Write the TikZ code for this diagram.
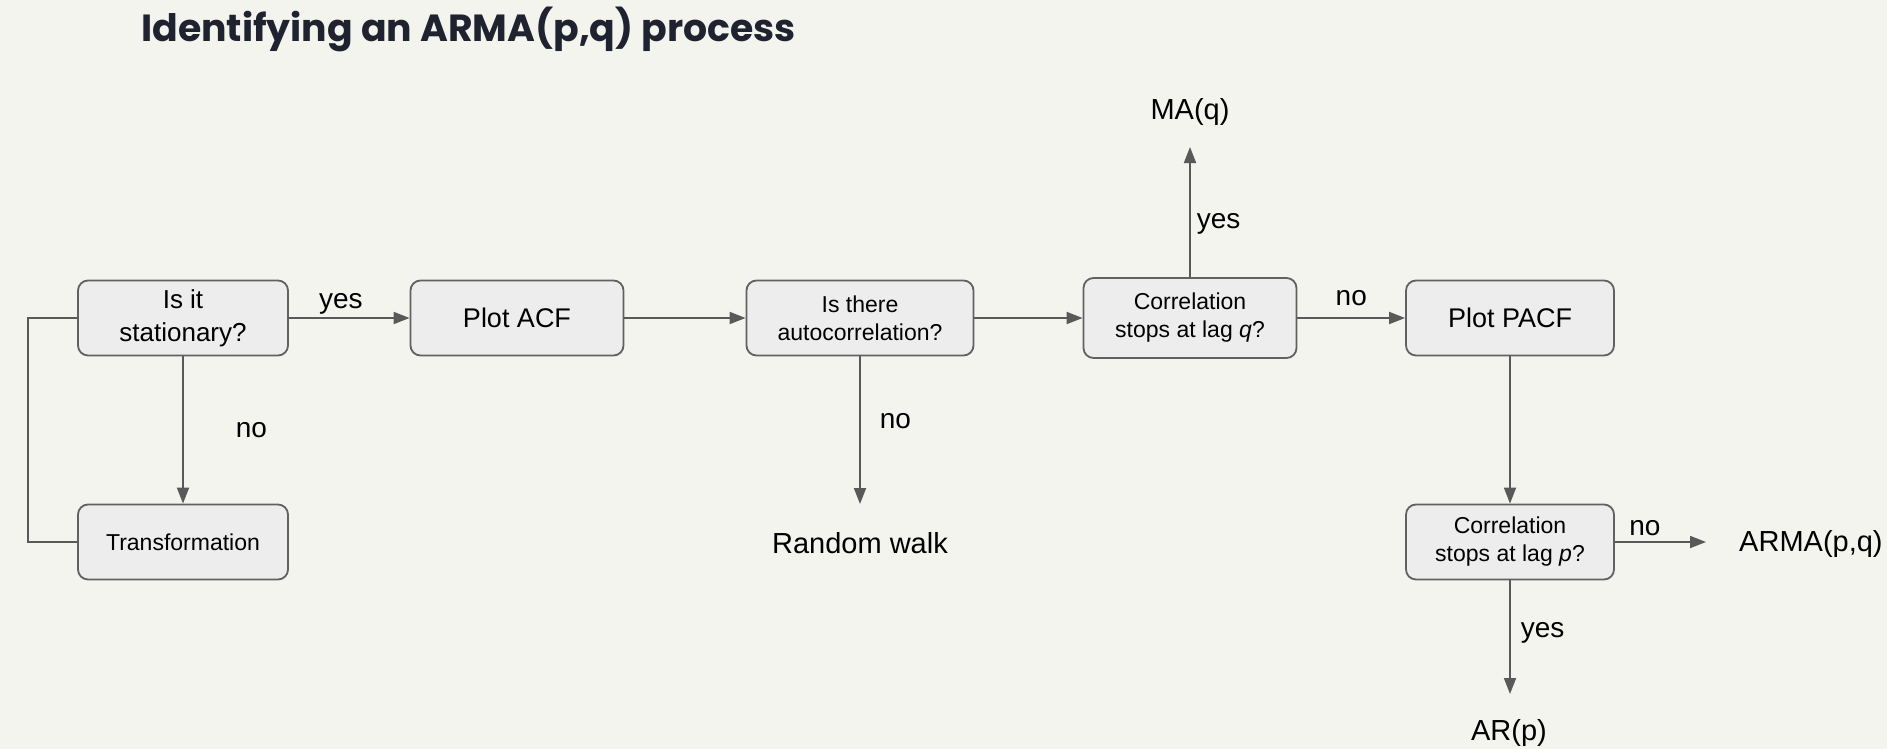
\documentclass[tikz,border=0pt]{standalone}
\usepackage{fontspec}
\setmainfont{Liberation Sans}
\newfontfamily\titlefont{Poppins}
\usetikzlibrary{arrows.meta}
\definecolor{bgc}{HTML}{F4F4EE}
\definecolor{boxfill}{HTML}{EDEDED}
\definecolor{boxline}{HTML}{616161}
\definecolor{linec}{HTML}{595959}
\definecolor{titlec}{HTML}{1F2330}
\begin{document}
\begin{tikzpicture}[x=1pt,y=-1pt,
  stepbox/.style={draw=boxline,line width=1.8pt,fill=boxfill,rounded corners=10pt,
    inner sep=0pt,align=center,minimum height=75pt},
  conn/.style={draw=linec,line width=1.8pt},
  arr/.style={conn,-{Triangle[length=16pt,width=12pt]}},
  lbl/.style={font=\fontsize{28}{30}\selectfont,inner sep=0pt},
  outtext/.style={font=\fontsize{29}{31}\selectfont,inner sep=0pt}]
\fill[bgc] (0,0) rectangle (1887,749);
\useasboundingbox (0,0) rectangle (1887,749);
\node[anchor=west,inner sep=0pt,text=titlec,font=\titlefont\bfseries\fontsize{37.8}{40}\selectfont] (title) at (141,29) {Identifying an ARMA(p,q) process};

\node[stepbox,minimum width=210pt,font=\fontsize{26}{33}\selectfont] (stat) at (183,318) {\raisebox{-1.5pt}{Is it}\\\raisebox{-1.5pt}{stationary?}};
\node[stepbox,minimum width=210pt,font=\fontsize{23}{27}\selectfont] (trans) at (183,542) {Transformation};
\node[stepbox,minimum width=213pt,font=\fontsize{27}{30}\selectfont] (acf) at (517,318) {Plot ACF};
\node[stepbox,minimum width=227pt,font=\fontsize{23}{28}\selectfont] (auto) at (860,318) {Is there\\autocorrelation?};
\node[stepbox,minimum width=213pt,minimum height=80pt,font=\fontsize{23}{28}\selectfont] (corrq) at (1190,318) {Correlation\\stops at lag \textit{q}?};
\node[stepbox,minimum width=208pt,font=\fontsize{27}{30}\selectfont] (pacf) at (1510,318) {Plot PACF};
\node[stepbox,minimum width=208pt,font=\fontsize{23}{28}\selectfont] (corrp) at (1510,542) {Correlation\\stops at lag \textit{p}?};

\node[outtext] (ma) at (1190,112) {MA(q)};
\node[outtext] (rw) at (860,543) {Random walk};
\node[outtext,anchor=west] (arma) at (1739,544) {ARMA(p,q)};
\node[outtext] (ar) at (1509,733) {AR(p)};

\coordinate (maend) at (1190,147);
\coordinate (rwend) at (860,504);
\coordinate (armaend) at (1706,542);
\coordinate (arend) at (1510,694);
\coordinate (loopx) at (28,0);

\draw[arr] (stat.east) -- node[lbl,above=3pt,pos=0.43]{yes} (acf.west);
\draw[arr] (acf.east) -- (auto.west);
\draw[arr] (auto.east) -- (corrq.west);
\draw[arr] (corrq.east) -- node[lbl,above=11pt,pos=0.5]{no} (pacf.west);
\draw[arr] (corrq.north) -- node[lbl,right=6pt,pos=0.41]{yes} (maend);
\draw[arr] (pacf.south) -- (corrp.north);
\draw[arr] (corrp.east) -- node[lbl,above=5pt,pos=0.33]{no} (armaend);
\draw[arr] (corrp.south) -- node[lbl,right=10pt,pos=0.46]{yes} (arend);
\draw[arr] (auto.south) -- node[lbl,right=19pt,pos=0.44]{no} (rwend);
\draw[arr] (stat.south) -- node[lbl,right=52pt,pos=0.5]{no} (trans.north);
\draw[conn] (stat.west) -- (stat.west -| loopx) -- (trans.west -| loopx) -- (trans.west);
\end{tikzpicture}
\end{document}
